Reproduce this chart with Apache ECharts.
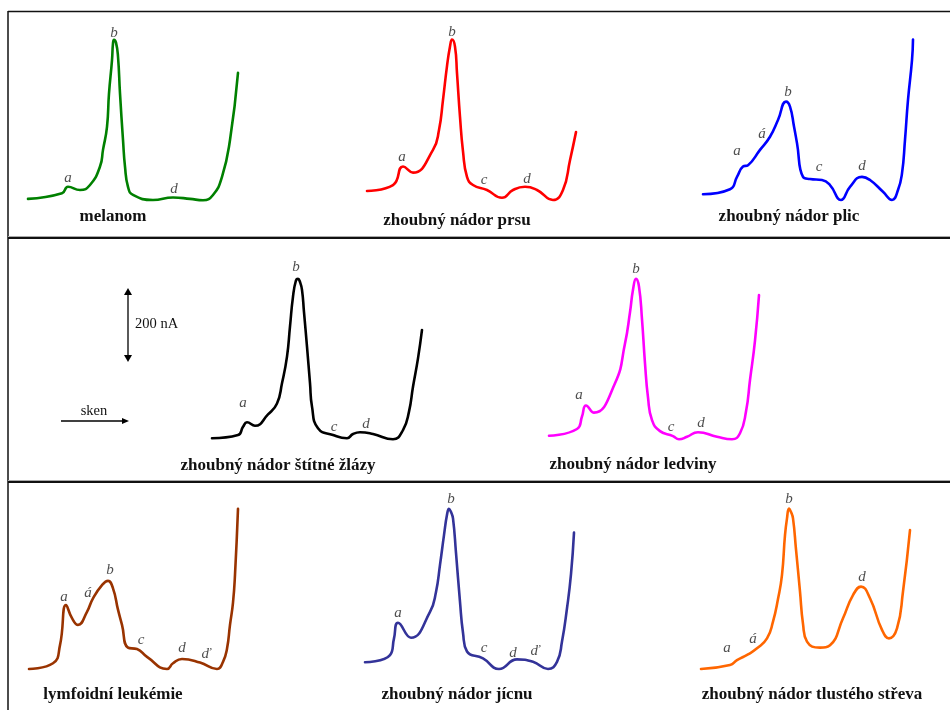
<!DOCTYPE html>
<html>
<head>
<meta charset="utf-8">
<script src="https://cdn.jsdelivr.net/npm/echarts@6/dist/echarts.min.js"></script>
<style>
  html, body { margin: 0; padding: 0; background: #fff; }
  #chart { width: 950px; height: 710px; }
</style>
</head>
<body>
<div id="chart"></div>
<script>
// Differential pulse polarograms (current in nA vs. scan position), one per tumour type.
// Each trace: [scan position, current in nA above the baseline].
const melanom = [[8,6],[42,22],[48,40],[60,31],[70,45],[80,97],[83,144],[87,209],[89,303],[92,397],[93,444],[94,454],[96,446],[98,407],[100,303],[103,172],[105,97],[108,40],[113,17],[133,3],[153,10],[170,6],[183,2],[193,17],[202,68],[210,172],[218,361]];
const prsu = [[12,28],[38,45],[48,97],[58,80],[78,144],[84,200],[88,285],[92,380],[95,435],[97,455],[100,435],[102,360],[105,237],[108,140],[112,68],[118,45],[132,31],[147,9],[158,31],[170,40],[182,31],[198,3],[208,31],[215,115],[221,194]];
const plic = [[13,19],[40,33],[47,68],[53,97],[58,101],[70,144],[80,181],[88,228],[96,280],[100,266],[104,210],[107,163],[113,68],[120,62],[132,59],[140,45],[151,3],[160,40],[172,68],[180,59],[193,26],[202,3],[208,31],[212,78],[215,172],[218,285],[222,397],[223,455]];
const stitnaZlaza = [[12,5],[38,14],[43,37],[47,50],[55,40],[68,72],[77,103],[82,160],[87,235],[90,320],[93,404],[96,450],[98,454],[100,445],[102,423],[104,360],[107,263],[110,160],[112,94],[118,33],[133,14],[147,5],[153,17],[160,22],[173,17],[193,2],[203,28],[209,80],[213,150],[218,230],[222,310]];
const ledviny = [[9,12],[37,31],[42,66],[46,97],[54,77],[75,160],[85,272],[90,360],[93,423],[96,454],[99,432],[102,340],[105,216],[108,120],[112,56],[120,25],[133,11],[139,2],[147,9],[158,22],[177,9],[192,2],[200,19],[206,80],[210,169],[215,280],[219,408]];
const leukemie = [[9,3],[33,19],[40,70],[46,183],[52,146],[58,127],[67,164],[73,202],[82,239],[88,251],[93,230],[98,170],[102,127],[108,63],[117,59],[127,37],[147,3],[153,19],[162,31],[180,21],[197,3],[203,23],[207,60],[210,127],[213,190],[215,268],[218,454]];
const jicen = [[10,22],[35,42],[39,89],[43,133],[56,91],[75,164],[81,220],[85,296],[89,380],[92,437],[94,454],[96,445],[98,427],[101,330],[105,192],[108,105],[112,52],[128,33],[144,3],[162,30],[178,23],[193,3],[202,23],[207,80],[212,174],[216,270],[219,387]];
const tlusteStrevo = [[11,3],[40,14],[47,28],[58,44],[67,61],[77,89],[83,136],[88,200],[92,268],[95,380],[97,427],[99,455],[101,445],[103,427],[106,340],[110,221],[113,130],[117,80],[130,63],[140,70],[153,146],[163,211],[171,235],[180,202],[192,113],[199,89],[207,117],[213,221],[220,394]];

// Peak letters: [scan position, current in nA, letter]
const melanomPeaks = [[48,65,'a'],[94,473,'b'],[154,34,'d']];
const prsuPeaks = [[47,125,'a'],[97,475,'b'],[129,59,'c'],[172,61,'d']];
const plicPeaks = [[47,141,'a'],[72,188,'á'],[98,306,'b'],[129,97,'c'],[172,99,'d']];
const stitnaZlazaPeaks = [[43,103,'a'],[96,486,'b'],[134,37,'c'],[166,45,'d']];
const ledvinyPeaks = [[39,127,'a'],[96,481,'b'],[131,37,'c'],[161,47,'d']];
const leukemiePeaks = [[44,206,'a'],[68,216,'á'],[90,282,'b'],[121,84,'c'],[162,61,'d'],[186,44,'ď']];
const jicenPeaks = [[43,161,'a'],[96,482,'b'],[129,61,'c'],[158,47,'d'],[180,52,'ď']];
const tlusteStrevoPeaks = [[37,61,'a'],[63,86,'á'],[99,482,'b'],[172,261,'d']];

const titles = ['melanom','zhoubný nádor prsu','zhoubný nádor plic','zhoubný nádor štítné žlázy','zhoubný nádor ledviny','lymfoidní leukémie','zhoubný nádor jícnu','zhoubný nádor tlustého střeva'];

// Shared scales for every panel
const SCAN_MAX = 240;        // scan units across a panel
const CURRENT_MAX = 500;     // nA
const PX_PER_NA = 71 / 200;  // 200 nA scale bar is 71 px tall
const SCALE_BAR_NA = 200;

// Panel placement: left edge and baseline of each plot area
const panels = [
  { data: melanom,      peaks: melanomPeaks,      color: '#008000', left: 20,  base: 201, titleX: 113, titleY: 217 },
  { data: prsu,         peaks: prsuPeaks,         color: '#ff0000', left: 355, base: 201, titleX: 457, titleY: 221 },
  { data: plic,         peaks: plicPeaks,         color: '#0000ff', left: 690, base: 201, titleX: 789, titleY: 217 },
  { data: stitnaZlaza,  peaks: stitnaZlazaPeaks,  color: '#000000', left: 200, base: 440, titleX: 278, titleY: 466 },
  { data: ledviny,      peaks: ledvinyPeaks,      color: '#ff00ff', left: 540, base: 440, titleX: 633, titleY: 465 },
  { data: leukemie,     peaks: leukemiePeaks,     color: '#993300', left: 20,  base: 670, titleX: 113, titleY: 695 },
  { data: jicen,        peaks: jicenPeaks,        color: '#333399', left: 355, base: 670, titleX: 457, titleY: 695 },
  { data: tlusteStrevo, peaks: tlusteStrevoPeaks, color: '#ff6600', left: 690, base: 670, titleX: 812, titleY: 695 }
];

const grids = [], xAxes = [], yAxes = [], series = [], graphics = [];
const plotH = CURRENT_MAX * PX_PER_NA;

panels.forEach((p, i) => {
  grids.push({ left: p.left, top: p.base - plotH, width: SCAN_MAX, height: plotH });
  xAxes.push({ gridIndex: i, type: 'value', min: 0, max: SCAN_MAX, show: false });
  yAxes.push({ gridIndex: i, type: 'value', min: 0, max: CURRENT_MAX, show: false });
  series.push({
    type: 'line', xAxisIndex: i, yAxisIndex: i, data: p.data,
    smooth: 0.5, showSymbol: false, symbol: 'none',
    lineStyle: { color: p.color, width: 2.6, cap: 'round', join: 'round' },
    silent: true, animation: false
  });
  series.push({
    type: 'scatter', xAxisIndex: i, yAxisIndex: i, data: p.peaks,
    symbol: 'circle', symbolSize: 1, itemStyle: { color: 'rgba(0,0,0,0)' },
    silent: true, animation: false,
    label: {
      show: true, position: 'inside', formatter: d => d.value[2],
      fontFamily: '"Liberation Serif", "Times New Roman", serif',
      fontStyle: 'italic', fontSize: 15, color: '#222'
    }
  });
  graphics.push({
    type: 'text', x: p.titleX, y: p.titleY,
    style: {
      text: titles[i], textAlign: 'center', textVerticalAlign: 'middle',
      font: 'bold 17px "Liberation Serif", "Times New Roman", serif', fill: '#111'
    }
  });
});

// Frame: top and left border, row separators
graphics.push(
  { type: 'line', shape: { x1: 8, y1: 11.5, x2: 950, y2: 11.5 }, style: { stroke: '#111', lineWidth: 1.5 } },
  { type: 'line', shape: { x1: 8, y1: 11, x2: 8, y2: 710 }, style: { stroke: '#111', lineWidth: 1.5 } },
  { type: 'line', shape: { x1: 8, y1: 236.5, x2: 950, y2: 236.5 }, style: { stroke: '#aaa', lineWidth: 1 } },
  { type: 'line', shape: { x1: 8, y1: 238, x2: 950, y2: 238 }, style: { stroke: '#111', lineWidth: 2 } },
  { type: 'line', shape: { x1: 8, y1: 480.5, x2: 950, y2: 480.5 }, style: { stroke: '#aaa', lineWidth: 1 } },
  { type: 'line', shape: { x1: 8, y1: 482, x2: 950, y2: 482 }, style: { stroke: '#111', lineWidth: 2 } }
);

// Current scale bar (double arrow) and scan direction arrow
const barX = 128, barTop = 288, barLen = SCALE_BAR_NA * PX_PER_NA;
const barBottom = barTop + barLen + 3;
const head = 4, headLen = 7;
graphics.push(
  { type: 'line', shape: { x1: barX, y1: barTop + 4, x2: barX, y2: barBottom - 4 }, style: { stroke: '#000', lineWidth: 1.3 } },
  { type: 'polygon', shape: { points: [[barX, barTop], [barX - head, barTop + headLen], [barX + head, barTop + headLen]] }, style: { fill: '#000' } },
  { type: 'polygon', shape: { points: [[barX, barBottom], [barX - head, barBottom - headLen], [barX + head, barBottom - headLen]] }, style: { fill: '#000' } },
  { type: 'text', x: 135, y: 324, style: { text: SCALE_BAR_NA + ' nA', textVerticalAlign: 'middle', font: '14.5px "Liberation Serif", "Times New Roman", serif', fill: '#111' } },
  { type: 'line', shape: { x1: 61, y1: 421, x2: 124, y2: 421 }, style: { stroke: '#000', lineWidth: 1.3 } },
  { type: 'polygon', shape: { points: [[129, 421], [122, 418], [122, 424]] }, style: { fill: '#000' } },
  { type: 'text', x: 94, y: 411, style: { text: 'sken', textAlign: 'center', textVerticalAlign: 'middle', font: '14.5px "Liberation Serif", "Times New Roman", serif', fill: '#111' } }
);

const chart = echarts.init(document.getElementById('chart'), null, { renderer: 'canvas' });
chart.setOption({
  animation: false,
  backgroundColor: '#fff',
  grid: grids, xAxis: xAxes, yAxis: yAxes, series: series,
  graphic: graphics
});
</script>
</body>
</html>
